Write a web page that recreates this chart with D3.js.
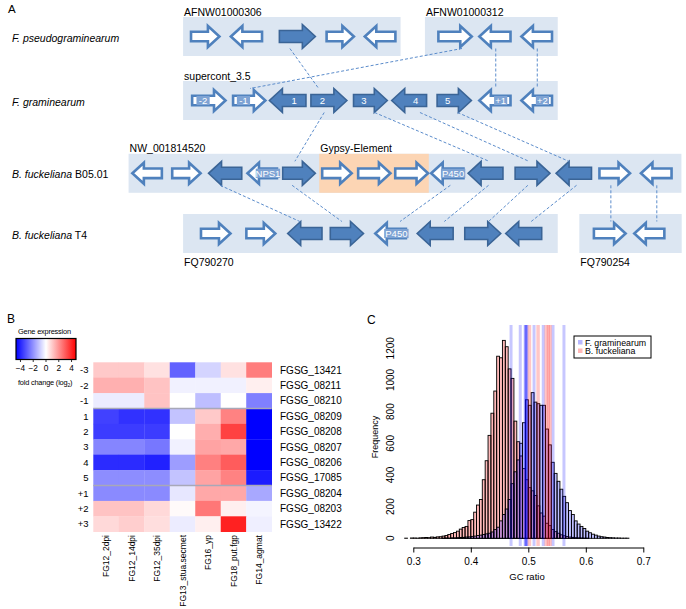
<!DOCTYPE html>
<html><head><meta charset="utf-8">
<script src="https://cdn.jsdelivr.net/npm/d3@7/dist/d3.min.js"></script>
<style>
body{margin:0;background:#fff}
svg{font-family:"Liberation Sans",Arial,Helvetica,sans-serif}
</style>
</head><body>
<svg id="c" width="686" height="609"></svg>
<script>
// ================= DATA =================
// ---- Panel A: synteny map (positions in relative map units 0-100) ----
const speciesItalic = ["F. pseudograminearum", "F. graminearum", "B. fuckeliana", "B. fuckeliana"];
const speciesSuffix = ["", "", " B05.01", " T4"];

// [row, start, end, label, label position]
const contigs = [
  [0, 9.9, 49.2, "AFNW01000306", "top"],
  [0, 53.6, 77.6, "AFNW01000312", "top"],
  [1, 9.9, 77.6, "supercont_3.5", "top"],
  [2, 0.05, 99.95, "NW_001814520", "top"],
  [3, 9.9, 77.6, "FQ790270", "bottom"],
  [3, 81.5, 100, "FQ790254", "bottom"]
];
const gypsyElement = [2, 34.5, 54.3, "Gypsy-Element"];

// [row, start, end, strand, type (w = other gene, d = cluster gene), label]
const genes = [
  [0, 11.1, 16.7, 1, "w", ""], [0, 18.3, 24.4, -1, "w", ""], [0, 27.3, 33.8, 1, "d", ""],
  [0, 35.6, 41.0, 1, "w", ""], [0, 42.5, 48.5, -1, "w", ""],
  [0, 55.8, 62.3, 1, "w", ""], [0, 63.2, 69.3, -1, "w", ""], [0, 70.8, 76.8, -1, "w", ""],
  [1, 11.3, 17.8, 1, "w", "-2"], [1, 18.7, 25.0, 1, "w", "-1"], [1, 25.5, 32.1, -1, "d", "1"],
  [1, 33.0, 39.5, 1, "d", "2"], [1, 40.7, 46.8, 1, "d", "3"], [1, 47.6, 53.9, -1, "d", "4"],
  [1, 55.8, 62.0, 1, "d", "5"], [1, 63.2, 69.3, -1, "w", "+1"], [1, 70.8, 76.8, -1, "w", "+2"],
  [2, 0.5, 6.3, -1, "w", ""], [2, 7.7, 13.3, 1, "w", ""], [2, 14.5, 20.5, -1, "d", ""],
  [2, 21.3, 27.1, -1, "w", "NPS1"], [2, 27.9, 33.8, 1, "d", ""], [2, 34.8, 40.6, 1, "w", ""],
  [2, 41.3, 47.6, 1, "w", ""], [2, 48.0, 54.4, 1, "w", ""], [2, 54.5, 60.8, -1, "w", "P450"],
  [2, 61.4, 67.7, -1, "d", ""], [2, 69.9, 76.2, 1, "d", ""], [2, 77.3, 83.7, -1, "d", ""],
  [2, 84.9, 90.9, 1, "w", ""], [2, 92.4, 98.4, -1, "w", ""],
  [3, 12.9, 18.7, 1, "w", ""], [3, 21.1, 26.8, 1, "w", ""], [3, 28.8, 35.0, -1, "d", ""],
  [3, 36.5, 42.5, 1, "d", ""], [3, 44.4, 50.4, -1, "w", "P450"], [3, 52.2, 58.7, -1, "d", ""],
  [3, 60.8, 67.3, 1, "d", ""], [3, 68.2, 74.7, -1, "d", ""],
  [3, 83.9, 90.1, 1, "w", ""], [3, 91.2, 97.1, -1, "w", ""]
];

// orthology links: [fromRow, fromPos, toRow, toPos]
const links = [
  [0, 29.2, 1, 34.4], [0, 60.3, 1, 22.0], [0, 66.4, 1, 66.4], [0, 73.9, 1, 73.9],
  [1, 35.4, 2, 30.1], [1, 44.5, 2, 65.2], [1, 52.7, 2, 72.4], [1, 59.5, 2, 79.6],
  [2, 16.6, 3, 31.0], [2, 29.6, 3, 38.6], [2, 58.2, 3, 49.1], [2, 65.1, 3, 57.1],
  [2, 72.2, 3, 65.1], [2, 81.0, 3, 72.8], [2, 87.2, 3, 87.2], [2, 95.5, 3, 95.5]
];

// ---- Panel B: heatmap ----
const heatCols = ["FG12_2dpi", "FG12_14dpi", "FG12_35dpi", "FG13_stua.secmet", "FG16_yp", "FG18_put.fgp", "FG14_agmat"];
const heatRowIds = ["-3", "-2", "-1", "1", "2", "3", "4", "5", "+1", "+2", "+3"];
const heatGenes = ["FGSG_13421", "FGSG_08211", "FGSG_08210", "FGSG_08209", "FGSG_08208", "FGSG_08207",
  "FGSG_08206", "FGSG_17085", "FGSG_08204", "FGSG_08203", "FGSG_13422"];
const heatValues = [
  [1.0, 1.0, 0.55, -2.9, -0.8, 0.55, 2.4],
  [1.45, 1.45, 1.1, -0.25, -0.25, -0.25, 0.3],
  [-0.35, -0.35, 1.1, 0.0, -1.2, 0.0, -2.35],
  [-3.5, -3.8, -3.8, -1.1, 1.0, 2.3, -4.8],
  [-3.6, -3.6, -3.6, 0.0, 1.5, 3.5, -4.8],
  [-2.25, -2.25, -2.5, -0.25, 1.7, 1.6, -4.8],
  [-3.9, -3.9, -4.1, -1.8, 2.35, 3.0, -4.8],
  [-2.1, -2.1, -2.1, -1.1, 1.7, 2.3, -4.2],
  [-2.15, -2.15, -2.15, -0.45, 1.6, 1.6, -1.6],
  [1.1, 1.1, 0.7, 0.1, 2.5, 0.3, -0.2],
  [0.7, 0.9, 0.6, -0.35, 0.3, 4.1, -0.3]
];
const legendTicks = [-4, -2, 0, 2, 4];

// ---- Panel C: GC ratio histograms ----
const binWidth = 0.005;
const bfBinStart = 0.275;   // B. fuckeliana
const bfCounts = [0, 0, 1, 0, 2, 2, 1, 3, 4, 5, 4, 8, 6, 9, 10, 14, 18, 24, 30, 36, 45, 58, 68, 75, 112, 118,
  165, 210, 245, 370, 490, 650, 790, 930, 1150, 1140, 1250, 1210, 1070, 1010, 740, 610, 520, 440, 370,
  320, 300, 270, 205, 160, 140, 95, 80, 55, 42, 32, 22, 16, 11, 8, 6, 4, 3, 2, 1, 1];
const fgBinStart = 0.350;   // F. graminearum
const fgCounts = [1, 2, 1, 3, 3, 4, 5, 6, 8, 9, 12, 14, 18, 20, 24, 28, 32, 40, 55, 70, 110, 150, 185, 245,
  345, 420, 495, 600, 730, 875, 840, 920, 860, 850, 840, 840, 690, 590, 480, 410, 360, 310, 265, 225, 175,
  150, 110, 90, 75, 62, 45, 35, 26, 20, 14, 10, 8, 5, 4, 3, 2, 2, 1, 1, 1];
const fgClusterGC = [0.470, 0.486, 0.4945, 0.4955, 0.4965, 0.4975, 0.510, 0.526, 0.543, 0.562];
const bfClusterGC = [0.502, 0.517, 0.531, 0.535, 0.538];
const xTicks = [0.3, 0.4, 0.5, 0.6, 0.7];
const yTicks = [0, 200, 400, 600, 800, 1000, 1200];
const legendLabels = ["F. graminearum", "B. fuckeliana"];

// ================= DRAW =================
const svg = d3.select("#c");
const BLUE = "#4f81bd", DARKBLUE = "#3a6496", BOXFILL = "#dce6f2", GYPSY = "#fcd5b4";

// ---- Panel A ----
const gx = d3.scaleLinear().domain([0, 100]).range([128.3, 681.7]);
const rowY = [36.5, 100.5, 173.3, 233.5];
const boxHalf = 19.5;
const A = svg.append("g");

A.append("text").attr("x", 8).attr("y", 13).attr("font-size", 11.5).text("A");

speciesItalic.forEach((s, i) => {
  const t = A.append("text").attr("x", 12).attr("y", rowY[i] + 5).attr("font-size", 10.5);
  t.append("tspan").attr("font-style", "italic").text(s);
  if (speciesSuffix[i]) t.append("tspan").text(speciesSuffix[i]);
});

A.selectAll("rect.contig").data(contigs).join("rect")
  .attr("x", d => gx(d[1])).attr("width", d => gx(d[2]) - gx(d[1]))
  .attr("y", d => rowY[d[0]] - boxHalf).attr("height", boxHalf * 2)
  .attr("fill", BOXFILL);
A.append("rect").attr("x", gx(gypsyElement[1])).attr("width", gx(gypsyElement[2]) - gx(gypsyElement[1]))
  .attr("y", rowY[gypsyElement[0]] - boxHalf).attr("height", boxHalf * 2).attr("fill", GYPSY);

A.selectAll("text.contig").data(contigs).join("text")
  .attr("x", d => gx(d[1]) + 1)
  .attr("y", d => d[4] === "top" ? rowY[d[0]] - boxHalf - 1.5 : rowY[d[0]] + boxHalf + 13)
  .attr("font-size", 10.5).text(d => d[3]);
A.append("text").attr("x", gx(gypsyElement[1]) + 1).attr("y", rowY[gypsyElement[0]] - boxHalf - 1.5)
  .attr("font-size", 10.5).text(gypsyElement[3]);

function arrowPath(x0, x1, cy, strand, bh, hh, hl) {
  if (strand > 0) {
    return `M${x0},${cy - bh}L${x1 - hl},${cy - bh}L${x1 - hl},${cy - hh}L${x1},${cy}L${x1 - hl},${cy + hh}L${x1 - hl},${cy + bh}L${x0},${cy + bh}Z`;
  }
  return `M${x1},${cy - bh}L${x0 + hl},${cy - bh}L${x0 + hl},${cy - hh}L${x0},${cy}L${x0 + hl},${cy + hh}L${x0 + hl},${cy + bh}L${x1},${cy + bh}Z`;
}

genes.forEach(g => {
  const [row, s, e, strand, type, label] = g;
  const cy = rowY[row];
  let x0 = gx(s), x1 = gx(e);
  if (type === "d") {
    A.append("path").attr("d", arrowPath(x0, x1, cy, strand, 6, 12, 13))
      .attr("fill", BLUE).attr("stroke", DARKBLUE).attr("stroke-width", 1.6).attr("stroke-linejoin", "miter");
  } else {
    x0 += 1.3; x1 -= 1.3;
    A.append("path").attr("d", arrowPath(x0, x1, cy, strand, 4.8, 10.5, 11.5))
      .attr("fill", "#fff").attr("stroke", BLUE).attr("stroke-width", 2.6).attr("stroke-linejoin", "miter");
  }
  if (label) {
    const hl = type === "d" ? 13 : 11.5;
    const cx = strand > 0 ? (x0 + x1 - hl) / 2 : (x0 + hl + x1) / 2;
    if (type === "w") {
      const tw = label.length * 5.6 + 2;
      A.append("rect").attr("x", cx - tw / 2).attr("y", cy - 4.6).attr("width", tw).attr("height", 9.2)
        .attr("fill", "#7ea3d4");
    }
    A.append("text").attr("x", cx).attr("y", cy + 3.4).attr("text-anchor", "middle")
      .attr("font-size", 9.5).attr("fill", "#fff").text(label);
  }
});

A.selectAll("line.link").data(links).join("line")
  .attr("x1", d => gx(d[1])).attr("y1", d => rowY[d[0]] + 12)
  .attr("x2", d => gx(d[3])).attr("y2", d => rowY[d[2]] - 12)
  .attr("stroke", "#5b8ccb").attr("stroke-width", 1).attr("stroke-dasharray", "3,2");

// ---- Panel B ----
const B = svg.append("g");
B.append("text").attr("x", 7).attr("y", 323).attr("font-size", 12).text("B");

const color = d3.scaleLinear().domain([-4.7, 0, 4.7]).range(["#0000ff", "#ffffff", "#ff0000"]).clamp(true);
const hx = d3.scaleBand().domain(heatCols).range([93.3, 271.7]);
const hy = d3.scaleBand().domain(heatRowIds).range([362.3, 531.7]);

heatValues.forEach((row, j) => {
  row.forEach((v, i) => {
    B.append("rect").attr("x", hx(heatCols[i])).attr("y", hy(heatRowIds[j]))
      .attr("width", hx.bandwidth() + 0.3).attr("height", hy.bandwidth() + 0.3)
      .attr("fill", color(v));
  });
});
["1", "+1"].forEach(id => {
  B.append("line").attr("x1", 93.3).attr("x2", 271.7).attr("y1", hy(id)).attr("y2", hy(id))
    .attr("stroke", "#a8a8b8").attr("stroke-width", 1.5);
});
B.selectAll("text.rid").data(heatRowIds).join("text")
  .attr("x", 88.5).attr("y", d => hy(d) + hy.bandwidth() / 2 + 3.4)
  .attr("text-anchor", "end").attr("font-size", 9.5).text(d => d);
B.selectAll("text.gid").data(heatGenes).join("text")
  .attr("x", 280).attr("y", (d, j) => hy(heatRowIds[j]) + hy.bandwidth() / 2 + 3.6)
  .attr("font-size", 10).text(d => d);
B.selectAll("text.cid").data(heatCols).join("text")
  .attr("transform", d => `translate(${hx(d) + hx.bandwidth() / 2 + 3.2},535) rotate(-90)`)
  .attr("text-anchor", "end").attr("font-size", 8.5).text(d => d);

// colour legend
B.append("text").attr("x", 18).attr("y", 334).attr("font-size", 7.4).attr("letter-spacing", -0.2).text("Gene expression");
const defs = svg.append("defs");
const grad = defs.append("linearGradient").attr("id", "gexp");
[[0, "#0000ff"], [0.5, "#ffffff"], [1, "#ff0000"]].forEach(s =>
  grad.append("stop").attr("offset", s[0]).attr("stop-color", s[1]));
const lx = d3.scaleLinear().domain([-4.7, 4.7]).range([16, 76]);
B.append("rect").attr("x", 16).attr("y", 338.5).attr("width", 60).attr("height", 21)
  .attr("fill", "url(#gexp)").attr("stroke", "#000").attr("stroke-width", 1.2);
B.selectAll("line.lt").data(legendTicks).join("line")
  .attr("x1", d => lx(d)).attr("x2", d => lx(d)).attr("y1", 359.5).attr("y2", 362)
  .attr("stroke", "#000").attr("stroke-width", 0.8);
B.selectAll("text.lt").data(legendTicks).join("text")
  .attr("x", d => lx(d)).attr("y", 370.5).attr("text-anchor", "middle").attr("font-size", 8.3)
  .text(d => d < 0 ? "\u2212" + Math.abs(d) : String(d));
const fc = B.append("text").attr("x", 18).attr("y", 385).attr("font-size", 7.4).attr("letter-spacing", -0.2);
fc.append("tspan").text("fold change (log");
fc.append("tspan").attr("font-size", 5).attr("dy", 2).text("2");
fc.append("tspan").attr("dy", -2).text(")");

// ---- Panel C ----
const C = svg.append("g");
C.append("text").attr("x", 367).attr("y", 323.5).attr("font-size", 12).text("C");
const xh = d3.scaleLinear().domain([0.3, 0.7]).range([413.3, 643.3]);
const yh = d3.scaleLinear().domain([0, 1200]).range([538.3, 348.3]);

function drawHist(start, counts, fill) {
  C.append("g").selectAll("rect").data(counts).join("rect")
    .attr("x", (d, i) => xh(start + i * binWidth))
    .attr("width", (d, i) => xh(start + (i + 1) * binWidth) - xh(start + i * binWidth))
    .attr("y", d => yh(d)).attr("height", d => yh(0) - yh(d))
    .attr("fill", fill).attr("stroke", "#000").attr("stroke-width", 0.9);
}
drawHist(bfBinStart, bfCounts, "rgba(255,0,0,0.27)");
drawHist(fgBinStart, fgCounts, "rgba(0,0,255,0.25)");

C.selectAll("line.fgv").data(fgClusterGC).join("line")
  .attr("x1", d => xh(d)).attr("x2", d => xh(d)).attr("y1", 325).attr("y2", 546)
  .attr("stroke", "rgba(0,0,255,0.22)").attr("stroke-width", 3);
C.selectAll("line.bfv").data(bfClusterGC).join("line")
  .attr("x1", d => xh(d)).attr("x2", d => xh(d)).attr("y1", 325).attr("y2", 546)
  .attr("stroke", "rgba(255,0,0,0.22)").attr("stroke-width", 3.5);

const xAxis = C.append("g").attr("transform", "translate(0,547.5)")
  .call(d3.axisBottom(xh).tickValues(xTicks).tickFormat(d3.format(".1f")).tickSize(5).tickSizeOuter(0));
xAxis.select(".domain").attr("stroke", "#000").attr("stroke-width", 1);
xAxis.selectAll(".tick line").attr("stroke", "#000");
xAxis.selectAll("text").attr("font-size", 10).attr("font-family", "Liberation Sans, Arial, sans-serif").attr("dy", "0.95em");

C.selectAll("text.yt").data(yTicks).join("text")
  .attr("transform", d => `translate(393.5,${yh(d)}) rotate(-90)`)
  .attr("text-anchor", "middle").attr("font-size", 10).text(d => d);
C.append("text").attr("transform", "translate(377.5,437) rotate(-90)")
  .attr("text-anchor", "middle").attr("font-size", 9).text("Frequency");
C.append("text").attr("x", 527).attr("y", 580).attr("text-anchor", "middle").attr("font-size", 9.5).text("GC ratio");

// legend
C.append("rect").attr("x", 574).attr("y", 336).attr("width", 77).attr("height", 22)
  .attr("fill", "#fff").attr("stroke", "#000").attr("stroke-width", 1);
const legCols = ["rgba(0,0,255,0.28)", "rgba(255,0,0,0.28)"];
legendLabels.forEach((l, i) => {
  C.append("rect").attr("x", 578).attr("y", 340 + i * 8.5).attr("width", 4.5).attr("height", 4.5).attr("fill", legCols[i]);
  C.append("text").attr("x", 585).attr("y", 345.5 + i * 8.5).attr("font-size", 8.8).text(l);
});
</script>
</body></html>
